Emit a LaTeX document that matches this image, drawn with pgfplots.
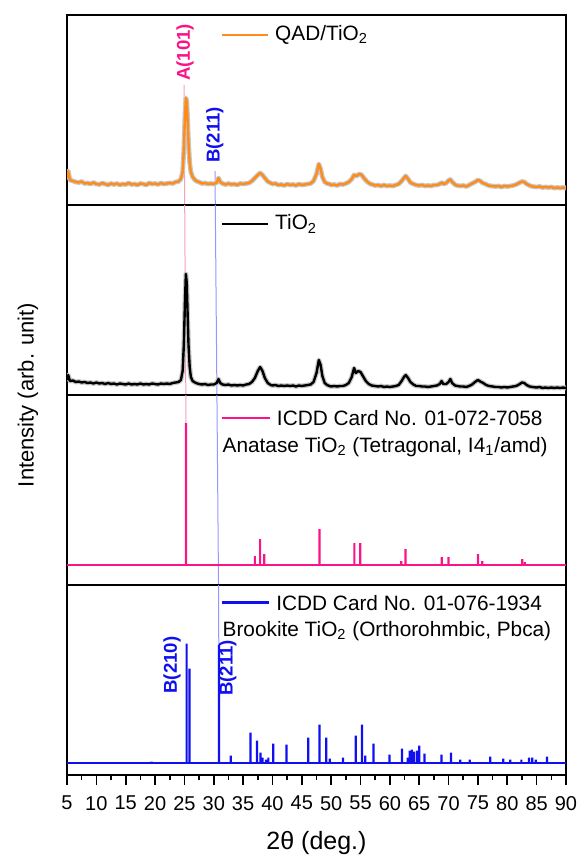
\documentclass[border=0pt]{standalone}
\usepackage{fontspec}
\setmainfont{Liberation Sans}
\usepackage{pgfplots}
\usepackage{pgfplotstable}
\pgfplotsset{compat=1.18}
\definecolor{qorange}{RGB}{255,140,25}
\definecolor{apink}{RGB}{250,20,135}
\definecolor{bblue}{RGB}{15,15,240}
\definecolor{lpink}{RGB}{245,160,195}
\definecolor{lblue}{RGB}{150,150,255}
\newcommand\lf{\fontsize{10.4}{12.5}\selectfont}
\newcommand\lbf{\fontsize{9.3}{10}\selectfont\bfseries}

\pgfplotstableread{
x y
5.0 27
5.2 34
5.5 25
6.0 24
6.5 23
7.0 22.5
7.5 23.5
8.0 21.5
8.5 22
9.0 21
9.5 22.5
10.0 21
10.5 20.5
11.0 22
11.5 21
12.0 20
12.5 21.5
13.0 20.5
13.5 21.5
14.0 20
14.5 21
15.0 20.5
15.5 22
16.0 20.5
16.5 21
17.0 20
17.5 21.5
18.0 21
18.5 20
19.0 22
19.5 21
20.0 21.5
20.5 20.5
21.0 22
21.5 21
22.0 21.5
22.5 22
23.0 21.5
23.5 23
24.0 23.5
24.4 26
24.7 33
24.9 55
25.1 90
25.25 107
25.4 104
25.55 85
25.7 62
25.9 42
26.1 33
26.4 28
26.8 25
27.2 23.5
27.5 23
28.0 21.5
28.5 22
29.0 21
29.5 21.5
30.0 21
30.5 22.5
30.8 27
31.1 23
31.5 21.5
32.0 20.5
32.5 21.5
33.0 20.5
33.5 21
34.0 20
34.5 21.5
35.0 21
35.5 21.5
36.0 22
36.5 24
37.0 27
37.5 30
37.9 32
38.3 30
38.7 27
39.2 23.5
39.7 22
40.0 21
40.5 21.5
41.0 20
41.5 20.5
42.0 19.5
42.5 21
43.0 20
43.5 20.5
44.0 19.5
44.5 21
45.0 20
45.5 20.5
46.0 21
46.5 21.5
47.0 24
47.5 31
47.9 41
48.2 36
48.5 28
48.9 23
49.3 21.5
49.7 21
50.0 20
50.5 20.5
51.0 19.5
51.5 21
52.0 20.5
52.5 21.5
53.0 23
53.5 26
53.9 30
54.3 29
54.8 31
55.2 30
55.7 26
56.2 23
56.7 21
57.0 20.5
57.5 19.5
58.0 20
58.5 19
59.0 20
59.5 19
60.0 19.5
60.5 19
61.0 20
61.5 21
62.0 24
62.4 27
62.7 29
63.1 26
63.5 22.5
64.0 21
64.5 20
65.0 19.5
65.5 20
66.0 19
66.5 19.5
67.0 19
67.5 20
68.0 20
68.5 21
68.8 22.5
69.2 21
69.6 22
70.0 24.5
70.3 25.5
70.7 22.5
71.2 20
71.5 19.5
72.0 19
72.5 19.5
73.0 18.5
73.5 20
74.0 21.5
74.5 23
75.0 25
75.4 24
75.8 22
76.3 21
76.8 19.5
77.3 19
78.0 18.5
78.5 19
79.0 18
79.5 19
80.0 18.5
80.5 19
81.0 19.5
81.5 20.5
82.0 22
82.5 23.5
82.9 23
83.3 21
83.8 19.5
84.3 18.5
85.0 18
85.5 18.5
86.0 17.5
86.5 18
87.0 17.5
87.5 18
88.0 17
88.5 17.5
89.0 17
89.5 17.5
90.0 17
}\qadtable

\pgfplotstableread{
x y
5.0 15
5.2 20
5.5 14
6.0 14.5
6.5 13
7.0 13.5
7.5 12.5
8.0 13
8.5 12
9.0 12.5
9.5 11.5
10.0 12.5
10.5 11.5
11.0 12
11.5 11
12.0 12
12.5 11
13.0 11.5
13.5 10.5
14.0 11.5
14.5 11
15.0 10.5
15.5 11.5
16.0 10.5
16.5 11
17.0 10.5
17.5 11.5
18.0 10.5
18.5 11
19.0 10.5
19.5 11.5
20.0 11
20.5 10.5
21.0 11.5
21.5 11
22.0 11.5
22.5 11
23.0 12
23.5 12.5
24.0 13
24.4 15
24.7 24
24.9 50
25.1 95
25.25 121
25.4 112
25.55 80
25.7 50
25.9 28
26.1 18
26.4 14
26.8 12.5
27.2 11.5
27.5 11
28.0 10.5
28.5 11
29.0 10
29.5 10.5
30.0 10.5
30.5 12
30.8 16
31.1 12
31.5 10.5
32.0 10
32.5 10.5
33.0 9.5
33.5 10
34.0 9.5
34.5 10
35.0 9.5
35.5 10.5
36.0 11
36.5 13
37.0 17
37.5 24
37.9 28
38.3 24
38.7 17
39.2 12
39.7 10
40.0 9.5
40.5 10
41.0 9
41.5 9.5
42.0 9
42.5 9.5
43.0 9
43.5 9.5
44.0 8.5
44.5 9.5
45.0 9
45.5 9.5
46.0 10
46.5 10.5
47.0 13
47.5 22
47.9 35
48.2 30
48.5 19
48.9 12
49.3 10
49.7 9
50.0 8.5
50.5 9
51.0 8.5
51.5 9
52.0 9
52.5 10
53.0 12
53.5 18
53.9 27
54.2 22
54.6 24
55.0 23
55.4 19
55.9 14
56.4 11
56.9 9.5
57.5 9
58.0 8.5
58.5 9
59.0 8
59.5 8.5
60.0 8
60.5 8.5
61.0 9
61.5 10
62.0 14
62.4 18
62.7 20
63.1 17
63.5 13
64.0 10.5
64.5 9
65.0 9
65.5 8.5
66.0 8.5
66.5 8
67.0 8.5
67.5 9
68.0 9.5
68.5 11
68.8 14
69.1 11
69.6 11
70.0 13
70.3 16
70.6 12
71.1 9.5
71.5 9
72.0 8.5
72.5 8.5
73.0 8
73.5 9
74.0 10.5
74.5 13
75.0 15
75.4 13.5
75.9 12
76.4 10
76.9 9
77.5 8.5
78.0 8
78.5 8
79.0 7.5
79.5 8
80.0 7.5
80.5 8
81.0 8.5
81.5 9
82.0 10.5
82.5 12.5
82.9 12
83.3 10
83.8 8.5
84.3 8
85.0 7.5
85.5 8
86.0 7
86.5 7.5
87.0 7
87.5 7.5
88.0 7
88.5 7.5
89.0 7
89.5 7.5
90.0 7
}\tiotable

\pgfplotstableread{
x y
25.27 142
37.0 9
37.9 26
38.6 11
48.0 36
53.95 22
54.95 22
61.95 4
62.65 16
68.85 8
70.0 8
75.0 11
75.75 4
82.55 6
83.0 3
}\anatable

\pgfplotstableread{
x y
19.4 1
25.38 119
25.85 94
30.88 118
32.9 7
36.25 30
37.35 22
37.95 10
38.3 5
38.9 3
39.3 5
40.15 19
42.4 18
46.1 25
48.0 38
49.15 25
49.75 4
52.0 5
54.2 27
55.25 38
55.8 7
57.2 19
59.95 8
62.05 14
63.05 5
63.4 12
63.75 13
64.1 11
64.6 12
65.0 17
65.9 9
68.8 8
70.4 10
72.0 3
73.6 3
77.1 6
79.3 4
80.5 3
82.4 3
83.7 5
84.25 5
84.85 3
86.75 6
}\brotable

\pgfplotsset{panel/.style={width=249.5pt, height=95pt, scale only axis,
  xmin=5, xmax=90, xtick=\empty, ytick=\empty,
  axis line style={line width=1pt, black}, anchor=north west}}

\begin{document}
\begin{tikzpicture}
\useasboundingbox (-33.5pt,7.5pt) rectangle (255pt,-420pt);
% Panel 1
\begin{axis}[panel, at={(0,0)}, ymin=0, ymax=190]
\addplot[lpink, line width=0.5pt] coordinates {(24.93,120) (25.05,0)};
\addplot[lblue, line width=0.5pt] coordinates {(30.21,34) (30.26,0)};
\addplot[gray!45, line width=2.4pt, line join=round] table {\qadtable};
\addplot[qorange, line width=1.2pt, line join=round] table {\qadtable};
\draw[qorange, line width=1.25pt] (axis cs:31.4,170) -- (axis cs:39.2,170);
\node[anchor=west, inner sep=0pt, font=\lf] at (axis cs:40.4,170) {QAD/TiO\textsubscript{2}};
\node[rotate=90, text=apink, font=\lbf, inner sep=0pt] at (axis cs:25.1,152.5) {A(101)};
\node[rotate=90, text=bblue, font=\lbf, inner sep=0pt] at (axis cs:30.2,70) {B(211)};
\end{axis}
% Panel 2
\begin{axis}[panel, at={(0,-95pt)}, ymin=0, ymax=190]
\addplot[lpink, line width=0.5pt] coordinates {(25.05,190) (25.24,0)};
\addplot[lblue, line width=0.5pt] coordinates {(30.26,190) (30.54,0)};
\addplot[gray!45, line width=2.4pt, line join=round] table {\tiotable};
\addplot[black, line width=1.2pt, line join=round] table {\tiotable};
\draw[black, line width=1.25pt] (axis cs:31.4,171) -- (axis cs:39.2,171);
\node[anchor=west, inner sep=0pt, font=\lf] at (axis cs:40.4,171) {TiO\textsubscript{2}};
\end{axis}
% Panel 3
\begin{axis}[panel, at={(0,-190pt)}, ymin=-20, ymax=170]
\addplot[lpink, line width=0.5pt] coordinates {(25.24,170) (25.27,140)};
\addplot[lblue, line width=0.5pt] coordinates {(30.54,170) (30.81,-20)};
\addplot[apink, line width=1pt] coordinates {(5,0) (90,0)};
\addplot[ybar, bar width=1.1pt, fill=apink, draw=none] table {\anatable};
\draw[apink, line width=1.25pt] (axis cs:31.45,147) -- (axis cs:39.6,147);
\node[anchor=west, inner sep=0pt, font=\lf] at (axis cs:40.7,147) {ICDD Card No. 01-072-7058};
\node[anchor=west, inner sep=0pt, font=\lf] at (axis cs:31.45,118) {Anatase TiO\textsubscript{2} (Tetragonal, I4\textsubscript{1}/amd)};
\end{axis}
% Panel 4
\begin{axis}[panel, at={(0,-285pt)}, ymin=-12.3, ymax=177.7,
  xtick={5,10,...,90}, minor x tick num=1, tick align=outside, xtick pos=bottom,
  major tick length=5pt, minor tick length=2.5pt,
  every tick/.style={black, line width=0.8pt},
  /pgf/number format/assume math mode=true,
  xticklabel style={font=\fontsize{10}{12}\selectfont, yshift=-2pt},
  xlabel={2θ (deg.)},
  xlabel style={font=\fontsize{12.5}{14}\selectfont, at={(axis description cs:0.5,0)}, anchor=center, inner sep=0pt, yshift=-34pt}]
\addplot[lblue, line width=0.5pt] coordinates {(30.81,177.7) (30.86,110)};
\addplot[bblue, line width=1pt] coordinates {(5,0) (90,0)};
\addplot[ybar, bar width=1.1pt, fill=bblue, draw=none] table {\brotable};
\draw[bblue, line width=1.25pt] (axis cs:31.35,160) -- (axis cs:39.45,160);
\node[anchor=west, inner sep=0pt, font=\lf] at (axis cs:40.6,160) {ICDD Card No. 01-076-1934};
\node[anchor=west, inner sep=0pt, font=\lf] at (axis cs:31.45,132) {Brookite TiO\textsubscript{2} (Orthorohmbic, Pbca)};
\node[rotate=90, text=bblue, font=\lbf, inner sep=0pt] at (axis cs:22.9,97.7) {B(210)};
\node[rotate=90, text=bblue, font=\lbf, inner sep=0pt] at (axis cs:32.4,94.7) {B(211)};
\end{axis}
\node[rotate=90, font=\fontsize{11}{13}\selectfont] at (-19.5pt,-190pt) {Intensity (arb. unit)};
\end{tikzpicture}
\end{document}
